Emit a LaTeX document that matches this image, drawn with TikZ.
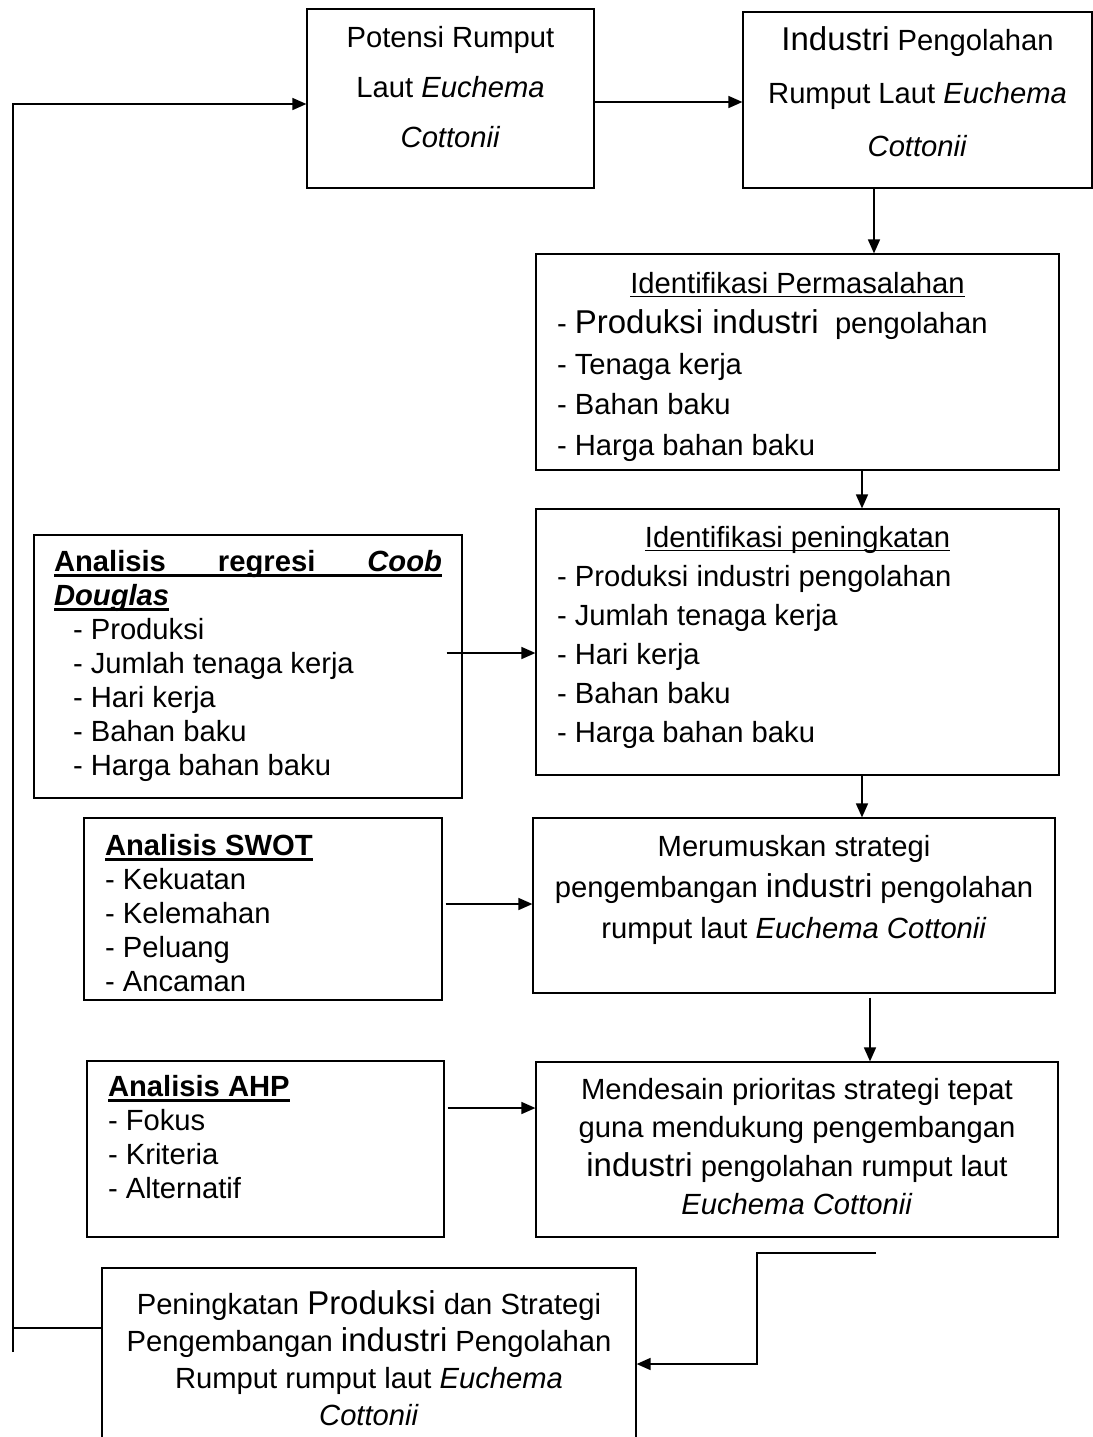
\documentclass[tikz,border=0pt]{standalone}
\usepackage{fontspec}
\setmainfont{Liberation Sans}
\usetikzlibrary{arrows.meta}
\newcommand{\boxtext}[4]{\parbox[c][#2][t]{#1}{\vspace*{#3}#4}}
\newcommand{\fs}[1]{\fontsize{14.6pt}{#1}\selectfont}
\newcommand{\bigw}[1]{{\fontsize{16.5pt}{19pt}\selectfont #1}}
\newcommand{\ulin}[2]{\leavevmode\vtop{\hbox{\raisebox{0pt}[\height][0pt]{#2}}\kern1.5pt\hrule height #1}}
\tikzset{box/.style={draw, line width=0.6pt, inner sep=0pt}}
\begin{document}
\begin{tikzpicture}[x=0.5pt,y=-0.5pt,line width=0.8pt,>={Triangle[length=7pt,width=6pt]}]
            \useasboundingbox (0,0) rectangle (1093,1437);
            \clip (0,0) rectangle (1093,1437);
            \node[box] (potensi) at (450.5,98.5) {\boxtext{143.5pt}{89.5pt}{8.5pt}{\fs{25pt}\centering Potensi Rumput\\ Laut \textit{Euchema}\\ \textit{Cottonii}}};
            \node[box] (industri) at (917.5,100) {\boxtext{174.5pt}{88pt}{7.5pt}{\fs{26.5pt}\centering \bigw{Industri} Pengolahan\\ Rumput Laut \textit{Euchema}\\ \textit{Cottonii}}};
            \node[box] (masalah) at (797.5,362) {\boxtext{261.5pt}{108pt}{9pt}{\fs{20.25pt}\centering\ulin{0.6pt}{Identifikasi Permasalahan}\par\raggedright\leftskip=10.5pt - \bigw{Produksi industri}\ \ pengolahan\\ - Tenaga kerja\\ - Bahan baku\\ - Harga bahan baku}};
            \node[box] (tingkat) at (797.5,642) {\boxtext{261.5pt}{133pt}{8.5pt}{\fs{19.5pt}\centering\ulin{0.6pt}{Identifikasi peningkatan}\par\raggedright\leftskip=10.5pt - Produksi industri pengolahan\\ - Jumlah tenaga kerja\\ - Hari kerja\\ - Bahan baku\\ - Harga bahan baku}};
            \node[box] (coob) at (248,666.5) {\boxtext{214pt}{131.5pt}{7.5pt}{\fs{17pt}\raggedright\leftskip=10pt \ulin{1.4pt}{\hbox to 194pt{\textbf{Analisis}\hfill\textbf{regresi}\hfill\textbf{\textit{Coob}}}}\\ \ulin{1.4pt}{\textbf{\textit{Douglas}}}\\ \hspace*{9.5pt}- Produksi\\ \hspace*{9.5pt}- Jumlah tenaga kerja\\ \hspace*{9.5pt}- Hari kerja\\ \hspace*{9.5pt}- Bahan baku\\ \hspace*{9.5pt}- Harga bahan baku}};
            \node[box] (swot) at (263,909) {\boxtext{179pt}{91pt}{8pt}{\fs{17pt}\raggedright\leftskip=10.5pt \ulin{1.4pt}{\textbf{Analisis SWOT}}\\ - Kekuatan\\ - Kelemahan\\ - Peluang\\ - Ancaman}};
            \node[box] (rumus) at (794,905.5) {\boxtext{261pt}{87.5pt}{8.5pt}{\fs{20.5pt}\centering Merumuskan strategi\\ pengembangan \bigw{industri} pengolahan\\ rumput laut \textit{Euchema Cottonii}}};
            \node[box] (ahp) at (265.5,1149) {\boxtext{178.5pt}{88pt}{7pt}{\fs{17pt}\raggedright\leftskip=10.5pt \ulin{1.4pt}{\textbf{Analisis AHP}}\\ - Fokus\\ - Kriteria\\ - Alternatif}};
            \node[box] (desain) at (797,1149.5) {\boxtext{261pt}{87.5pt}{8pt}{\fs{19.25pt}\centering Mendesain prioritas strategi tepat\\ guna mendukung pengembangan\\ \bigw{industri} pengolahan rumput laut\\ \textit{Euchema Cottonii}}};
            \node[box] (hasil) at (369,1369) {\boxtext{267pt}{101pt}{11.5pt}{\fs{18.5pt}\centering Peningkatan \bigw{Produksi} dan Strategi\\ Pengembangan \bigw{industri} Pengolahan\\ Rumput rumput laut \textit{Euchema}\\ \textit{Cottonii}}};
            \coordinate (bawah) at (13,1352);
            \coordinate (atas) at (13,104);
            \coordinate (temu) at (13,1328);
            \coordinate (balik) at (876,1253);
            \coordinate (siku) at (757,1364);
            \draw[->] (bawah) -- (atas) -- (atas -| potensi.west);
            \draw (temu) -- (temu -| hasil.west);
            \draw[->] ([yshift=-1.75pt]potensi.east) -- ([yshift=-1.75pt]potensi.east -| industri.west);
            \draw[->] ([xshift=-21.75pt]industri.south) -- ([xshift=-21.75pt]industri.south |- masalah.north);
            \draw[->] ([xshift=32.25pt]masalah.south) -- ([xshift=32.25pt]masalah.south |- tingkat.north);
            \draw[->] ([xshift=32.25pt]tingkat.south) -- ([xshift=32.25pt]tingkat.south |- rumus.north);
            \draw[->] ([xshift=38pt,yshift=-2pt]rumus.south) -- ([xshift=38pt]rumus.south |- desain.north);
            \draw[->] ([xshift=-8pt,yshift=6.75pt]coob.east) -- ([yshift=6.75pt]coob.east -| tingkat.west);
            \draw[->] ([xshift=1.5pt,yshift=2.5pt]swot.east) -- ([yshift=2.5pt]swot.east -| rumus.west);
            \draw[->] ([xshift=1.5pt,yshift=20.5pt]ahp.east) -- ([yshift=20.5pt]ahp.east -| desain.west);
            \draw[->] (balik) -- (balik -| siku) -- (siku) -- (siku -| hasil.east);
        \end{tikzpicture}
\end{document}
